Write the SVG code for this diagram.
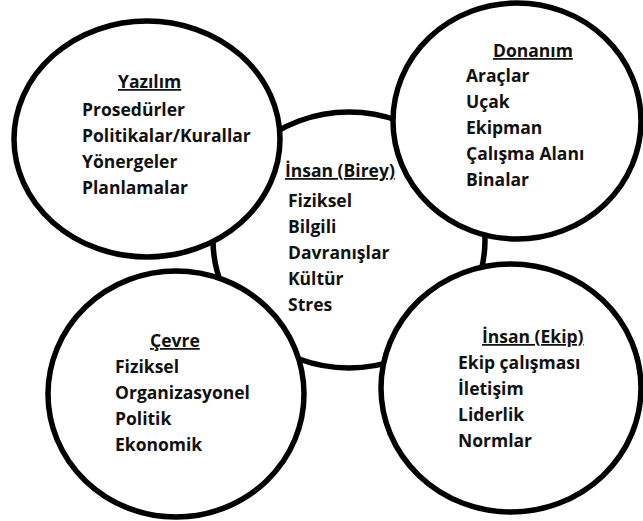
<svg xmlns="http://www.w3.org/2000/svg" width="643" height="521" viewBox="0 0 643 521">
<style>
.c{fill:#fff;stroke:#000;stroke-width:5.5}
text{font-family:"Open Sans",Lato,"Liberation Sans",sans-serif;font-weight:bold;font-size:17.5px;fill:#111}
.t{text-decoration:underline}
</style>
<rect width="643" height="521" fill="#fff"/>
<g id="insan-birey">
<ellipse class="c" cx="349" cy="240" rx="136" ry="128"/>
<text class="t" x="285" y="177">İnsan (Birey)</text>
<text x="288" y="207">Fiziksel</text>
<text x="288" y="233">Bilgili</text>
<text x="288" y="259">Davranışlar</text>
<text x="288" y="285">Kültür</text>
<text x="288" y="311">Stres</text>
</g>
<g id="yazilim">
<ellipse class="c" cx="147" cy="139" rx="133" ry="118"/>
<text class="t" x="118" y="88">Yazılım</text>
<text x="82" y="116">Prosedürler</text>
<text x="82" y="142">Politikalar/Kurallar</text>
<text x="82" y="168">Yönergeler</text>
<text x="82" y="194">Planlamalar</text>
</g>
<g id="donanim">
<ellipse class="c" cx="517" cy="121" rx="124" ry="118"/>
<text class="t" x="493" y="57">Donanım</text>
<text x="466" y="82">Araçlar</text>
<text x="466" y="108">Uçak</text>
<text x="466" y="134">Ekipman</text>
<text x="466" y="160">Çalışma Alanı</text>
<text x="466" y="186">Binalar</text>
</g>
<g id="cevre">
<ellipse class="c" cx="176" cy="394" rx="128" ry="123"/>
<text class="t" x="150" y="347">Çevre</text>
<text x="115" y="373">Fiziksel</text>
<text x="115" y="399">Organizasyonel</text>
<text x="115" y="425">Politik</text>
<text x="115" y="451">Ekonomik</text>
</g>
<g id="insan-ekip">
<ellipse class="c" cx="511" cy="388" rx="130" ry="124"/>
<text class="t" x="482" y="343">İnsan (Ekip)</text>
<text x="458" y="369">Ekip çalışması</text>
<text x="458" y="395">İletişim</text>
<text x="458" y="421">Liderlik</text>
<text x="458" y="447">Normlar</text>
</g>
<g id="connectors"/>
</svg>
